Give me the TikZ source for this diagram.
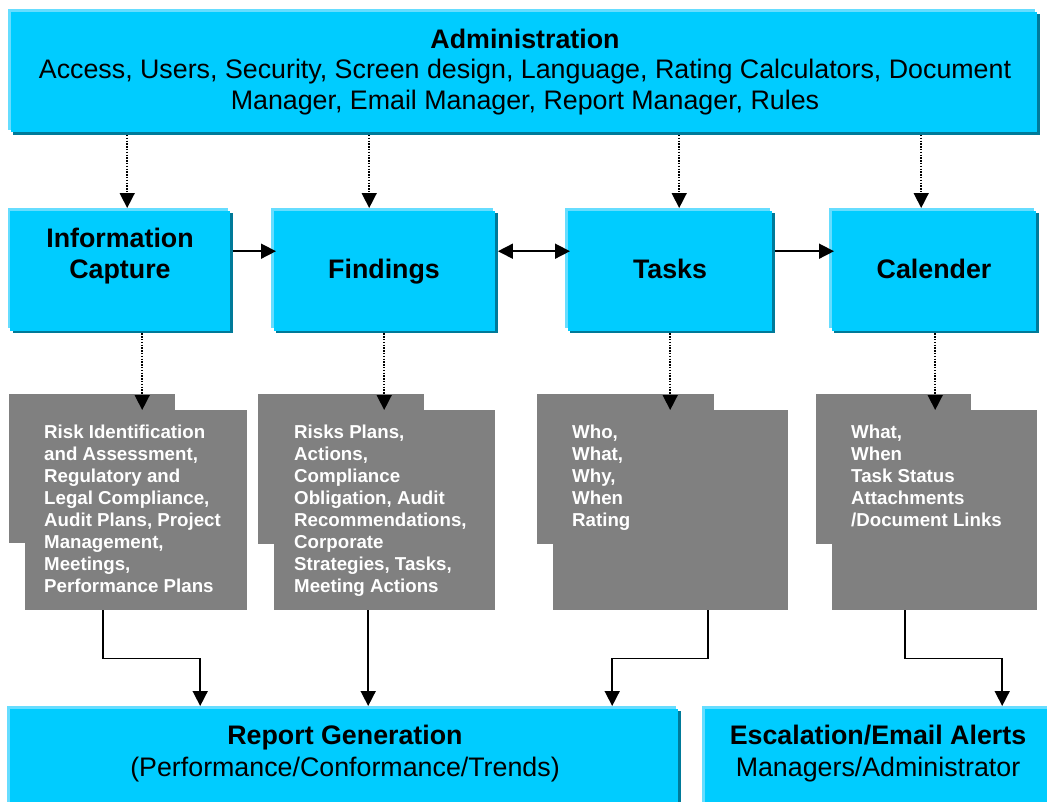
\documentclass[tikz,border=0pt]{standalone}
\usepackage{fontspec}
\setmainfont{Liberation Sans}
\usetikzlibrary{arrows.meta,shadows}
\definecolor{cyanbox}{HTML}{00CCFF}
\definecolor{cyanlight}{HTML}{66DDFF}
\definecolor{cyandark}{HTML}{007A99}
\definecolor{greybox}{HTML}{808080}
\tikzset{
  cbox/.style={fill=cyanbox, draw=none, inner sep=0pt, anchor=north west,
    general shadow={fill=cyanlight, shadow xshift=-2.5pt, shadow yshift=2.5pt},
    general shadow={fill=cyandark, shadow xshift=2.5pt, shadow yshift=-2.5pt}},
  gbox/.style={fill=greybox, draw=none, inner sep=0pt, anchor=north west},
  bigtxt/.style={inner sep=0pt, align=center},
  gtxt/.style={font=\fontsize{18.7}{22}\selectfont\bfseries, text=white, inner sep=0pt, align=left, anchor=north west},
  tip/.style={-{Triangle[width=15pt,length=15pt]}},
  dotarr/.style={tip, line width=1.5pt, dash pattern=on 1.4pt off 1.4pt},
  solarr/.style={tip, line width=1.6pt},
  dblarr/.style={{Triangle[width=15pt,length=15pt]}-{Triangle[width=15pt,length=15pt]}, line width=1.6pt}
}
\begin{document}
\begin{tikzpicture}[x=1pt,y=-1pt]
\useasboundingbox (0,0) rectangle (1047,801);
\fill[white] (0,0) rectangle (1047,801);
\clip (0,0) rectangle (1047,801);

% cyan boxes
\node[cbox, minimum width=1026.5pt, minimum height=120.5pt] (admin) at (10.5,11.5) {};
\node[cbox, minimum width=220pt, minimum height=120pt] (ic) at (10,210.5) {};
\node[cbox, minimum width=221.5pt, minimum height=120pt] (fin) at (273.5,210.5) {};
\node[cbox, minimum width=204.5pt, minimum height=120pt] (tasks) at (567.5,210.5) {};
\node[cbox, minimum width=204.5pt, minimum height=120pt] (cal) at (831.5,210.5) {};
\node[cbox, minimum width=668.5pt, minimum height=120pt] (report) at (9.5,708.5) {};
\node[cbox, minimum width=360pt, minimum height=120pt] (esc) at (704.5,708.5) {};

% grey boxes
\node[gbox, minimum width=166pt, minimum height=149pt] (gb1) at (9,394) {};
\node[gbox, minimum width=222pt, minimum height=200pt] (g1) at (25,410) {};
\node[gbox, minimum width=166pt, minimum height=150pt] (gb2) at (258,394) {};
\node[gbox, minimum width=221pt, minimum height=200pt] (g2) at (274,410) {};
\node[gbox, minimum width=177pt, minimum height=150pt] (gb3) at (537,394) {};
\node[gbox, minimum width=235pt, minimum height=200pt] (g3) at (553,410) {};
\node[gbox, minimum width=155pt, minimum height=150pt] (gb4) at (816,394) {};
\node[gbox, minimum width=205pt, minimum height=200pt] (g4) at (832,410) {};

% texts
\node[bigtxt, anchor=north, font=\fontsize{26.8}{30.5}\selectfont] (admintext) at (525,28.5)
  {\textbf{Administration}\\Access, Users, Security, Screen design, Language, Rating Calculators, Document\\Manager, Email Manager, Report Manager, Rules};
\node[bigtxt, anchor=north, font=\fontsize{26.8}{31}\selectfont\bfseries] (ictext) at (120,227.5) {Information\\Capture};
\node[bigtxt, anchor=base, font=\fontsize{26.8}{31}\selectfont\bfseries] (fintext) at (384,278.5) {Findings};
\node[bigtxt, anchor=base, font=\fontsize{26.8}{31}\selectfont\bfseries] (taskstext) at (670,278.5) {Tasks};
\node[bigtxt, anchor=base, font=\fontsize{26.8}{31}\selectfont\bfseries] (caltext) at (934,278.5) {Calender};
\node[bigtxt, anchor=north, font=\fontsize{26.8}{32}\selectfont] (reporttext) at (345,724.5)
  {\textbf{Report Generation}\\(Performance/Conformance/Trends)};
\node[bigtxt, anchor=north, font=\fontsize{26.8}{32}\selectfont] (esctext) at (878,724.5)
  {\textbf{Escalation/Email Alerts}\\Managers/Administrator};

\node[gtxt] (g1text) at (44,425) {Risk Identification\\and Assessment,\\Regulatory and\\Legal Compliance,\\Audit Plans, Project\\Management,\\Meetings,\\Performance Plans};
\node[gtxt] (g2text) at (294,425) {Risks Plans,\\Actions,\\Compliance\\Obligation, Audit\\Recommendations,\\Corporate\\Strategies, Tasks,\\Meeting Actions};
\node[gtxt] (g3text) at (572,425) {Who,\\What,\\Why,\\When\\Rating};
\node[gtxt] (g4text) at (851,425) {What,\\When\\Task Status\\Attachments\\/Document Links};

% admin -> row 2 (dotted)
\coordinate (a1) at ([xshift=7pt,yshift=2.5pt]ic.north);
\coordinate (a2) at ([xshift=-15.25pt,yshift=2.5pt]fin.north);
\coordinate (a3) at ([xshift=9.25pt,yshift=2.5pt]tasks.north);
\coordinate (a4) at ([xshift=-12.75pt,yshift=2.5pt]cal.north);
\foreach \c in {a1,a2,a3,a4}
  \draw[dotarr, shorten <=2.5pt] (admin.south -| \c) -- (\c);

% row 2 -> grey (dotted)
\coordinate (b1) at ([xshift=6pt]g1.north);
\coordinate (b2) at ([xshift=-0.5pt]g2.north);
\coordinate (b3) at ([xshift=-0.5pt]g3.north);
\coordinate (b4) at ([xshift=0.5pt]g4.north);
\draw[dotarr, shorten <=2.5pt] (ic.south -| b1) -- (b1);
\draw[dotarr, shorten <=2.5pt] (fin.south -| b2) -- (b2);
\draw[dotarr, shorten <=2.5pt] (tasks.south -| b3) -- (b3);
\draw[dotarr, shorten <=2.5pt] (cal.south -| b4) -- (b4);

% horizontal arrows
\coordinate (h1) at ([yshift=19.5pt]ic.east);
\draw[solarr, shorten <=2.5pt, shorten >=-2.5pt] (h1) -- (h1 -| fin.west);
\draw[dblarr, shorten <=2.5pt, shorten >=-2.5pt] (h1 -| fin.east) -- (h1 -| tasks.west);
\draw[solarr, shorten <=2.5pt, shorten >=-2.5pt] (h1 -| tasks.east) -- (h1 -| cal.west);

% grey -> bottom
\draw[solarr] ([xshift=-33pt]g1.south) -- ++(0,48) -| ([xshift=-143.75pt,yshift=2.5pt]report.north);
\draw[solarr] ([xshift=-16.5pt]g2.south) -- ([xshift=24.25pt,yshift=2.5pt]report.north);
\draw[solarr] ([xshift=37.5pt]g3.south) -- ++(0,48) -| ([xshift=268.25pt,yshift=2.5pt]report.north);
\draw[solarr] ([xshift=-29.5pt]g4.south) -- ++(0,48) -| ([xshift=117.5pt,yshift=2.5pt]esc.north);
\end{tikzpicture}
\end{document}
